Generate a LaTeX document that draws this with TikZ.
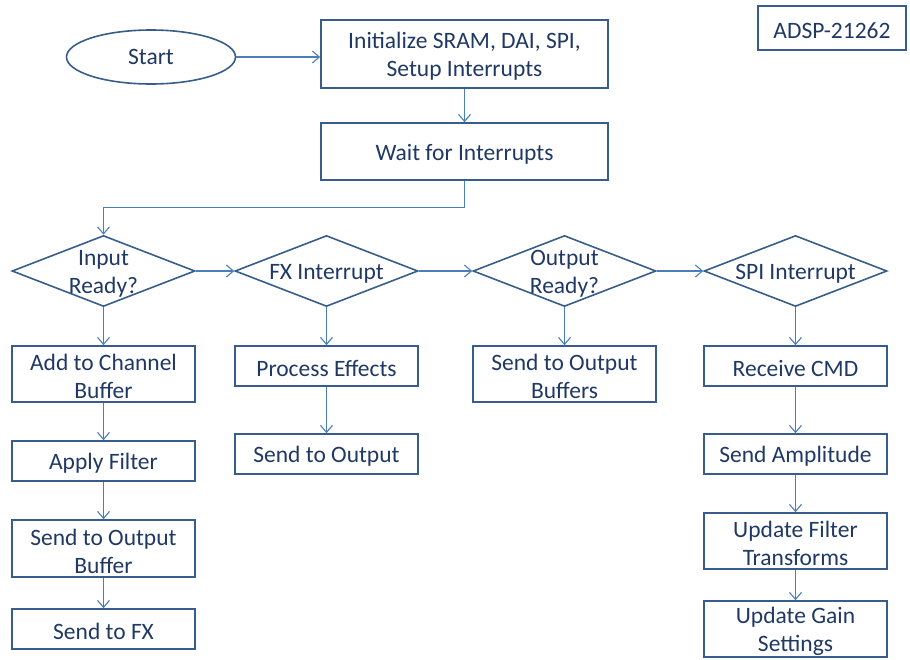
\documentclass[tikz,border=0pt]{standalone}
\usepackage{fontspec}
\setmainfont{Carlito}
\usetikzlibrary{arrows.meta,shapes.geometric}
\definecolor{edgeblue}{RGB}{56,93,138}
\definecolor{linkblue}{RGB}{74,126,187}
\definecolor{inkblue}{RGB}{31,56,100}
\tikzset{
  x=1pt,y=-1pt,
  every node/.style={font=\fontsize{23.5}{28}\selectfont,text=inkblue,align=center},
  caption/.style={label={[align=center,yshift=-2.5pt]center:#1}},
  stepbox/.style={draw=edgeblue,line width=1.6pt,rectangle,inner sep=0pt},
  decision/.style={draw=edgeblue,line width=1.6pt,diamond,inner sep=0pt},
  terminal/.style={draw=edgeblue,line width=1.6pt,ellipse,inner sep=0pt},
  conn/.style={draw=linkblue,line width=1.1pt,-{Straight Barb[length=7pt,width=12pt]}},
}
\newcommand{\boxat}[6]{% name, x1, y1, x2, y2, text
  \node[stepbox,minimum width={#4-#2},minimum height={#5-#3},caption={#6}] (#1) at ({(#2+#4)/2},{(#3+#5)/2}) {};}
\newcommand{\decat}[4]{% name, cx, cy, text
  \node[decision,minimum width=183pt,minimum height=71pt,caption={#4}] (#1) at (#2,#3) {};}
\begin{document}
\begin{tikzpicture}
\useasboundingbox (0,0) rectangle (910,659);

% top: start and initialisation
\node[terminal,minimum width=169pt,minimum height=54pt] (start) at (151,57) {Start};
\boxat{init}{321}{20}{608}{88}{Initialize SRAM, DAI, SPI,\\Setup Interrupts}
\boxat{wait}{321}{123}{608}{180}{Wait for Interrupts}
\boxat{chip}{758}{6}{906}{50}{ADSP-21262}

% interrupt decisions
\decat{inp}{103.5}{271}{Input\\Ready?}
\decat{fx}{326.5}{271}{FX Interrupt}
\decat{outr}{564.5}{271}{Output\\Ready?}
\decat{spi}{795.5}{271}{SPI Interrupt}

% input branch
\boxat{addbuf}{12}{346}{195}{402}{Add to Channel\\Buffer}
\boxat{filt}{12}{441}{195}{481}{Apply Filter}
\boxat{sendob}{12}{520}{195}{577}{Send to Output\\Buffer}
\boxat{sendfx}{12}{609}{195}{649}{Send to FX}

% effects branch
\boxat{proc}{235}{346}{418}{386}{Process Effects}
\boxat{sendout}{235}{434}{418}{474}{Send to Output}

% output branch
\boxat{sendobs}{473}{346}{656}{402}{Send to Output\\Buffers}

% SPI branch
\boxat{rcv}{704}{346}{887}{386}{Receive CMD}
\boxat{amp}{704}{434}{887}{474}{Send Amplitude}
\boxat{upf}{704}{513}{887}{569}{Update Filter\\Transforms}
\boxat{upg}{704}{601}{887}{657}{Update Gain\\Settings}

% connectors
\draw[conn] (start.east) -- (start.east -| init.west);
\draw[conn] (init) -- (wait);
\draw[conn] (wait.south) -- ++(0,27) -| (inp.north);
\draw[conn] (inp.east) -- (fx.west);
\draw[conn] (fx.east) -- (outr.west);
\draw[conn] (outr.east) -- (spi.west);

\draw[conn] (inp) -- (addbuf);
\draw[conn] (addbuf) -- (filt);
\draw[conn] (filt) -- (sendob);
\draw[conn] (sendob) -- (sendfx);

\draw[conn] (fx) -- (proc);
\draw[conn] (proc) -- (sendout);

\draw[conn] (outr) -- (sendobs);

\draw[conn] (spi) -- (rcv);
\draw[conn] (rcv) -- (amp);
\draw[conn] (amp) -- (upf);
\draw[conn] (upf) -- (upg);
\end{tikzpicture}
\end{document}
